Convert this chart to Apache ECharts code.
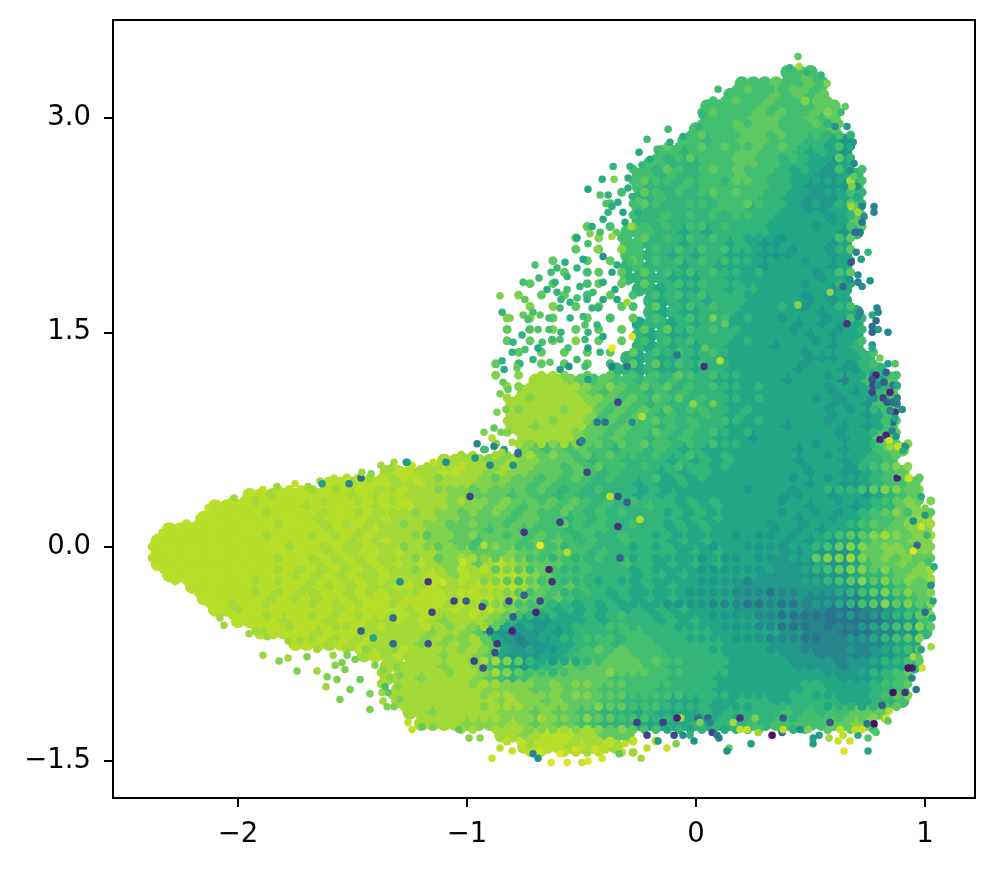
<!DOCTYPE html>
<html>
<head>
<meta charset="utf-8">
<style>
  html, body { margin: 0; padding: 0; background: #fff; }
  #chart { width: 995px; height: 869px; }
</style>
<script src="https://cdn.jsdelivr.net/npm/echarts@6/dist/echarts.min.js"></script>
</head>
<body>
<div id="chart"></div>
<script>
const xTicks = [-2, -1, 0, 1]
const yTicks = [-1.5, 0, 1.5, 3]

// colour level of a bin, as a position on the viridis scale
const levelValues = [0.38, 0.45, 0.53, 0.6, 0.65, 0.7, 0.75, 0.81, 0.86, 0.89]

// binned body of the cloud: first column of each row, then one level digit per column
const binCol0 = -2.4
const binColStep = 0.05
const binRow0 = 3.4
const binRowStep = 0.08

const rowStarts = [
  99, 56, 52, 51, 49, 49, 48, 47, 45, 44, 43, 43, 43, 43, 43, 42,
  42, 42, 42, 42, 43, 44, 44, 43, 43, 43, 42, 41, 34, 33, 32, 32,
  32, 33, 33, 26, 21, 16, 9, 6, 5, 2, 1, 1, 1, 2, 4, 5,
  6, 8, 10, 13, 19, 21, 21, 22, 22, 23, 24, 31, 33
]
const rowCells = [
  '',
  '555',
  '55565565',
  '555565656',
  '555556555566',
  '555566655656',
  '5555666655556',
  '554556665554432',
  '55455556655543432',
  '554445556655443323',
  '55454455565544332234',
  '54445455555544322224',
  '44544445555443322234',
  '54444445554443322336',
  '44544444444433333236',
  '555443434444433333324',
  '55444344434322333323',
  '55443434433322233323',
  '45444344333323333323',
  '44443334433333333233',
  '4434334434433333323',
  '434343444333332323',
  '4343344433333332333',
  '34434344333333232323',
  '43433444433333323233',
  '43434344333323333234',
  '4343343443333333222334',
  '443433434433333323332244',
  '88876 56554 54544 43333 33233 33135 36',
  '88888 76565 54545 44433 33333 33232 346',
  '88888 88765 65454 45443 33333 33322 3255',
  '88888 88756 56545 44543 43333 33323 3235',
  '88788 88665 65545 45443 33332 33332 3235',
  '88888 76565 54545 44333 23333 33323 366',
  '76565 65545 54543 43333 33332 33323 3567',
  '8888778776 6654554444 3434343333 3233323445',
  '8998899887 8776665654 5444343443 3333333233 223456',
  '9989998898 8887776656 5554444343 3433333333 3323322345 56',
  '9989999998 9899888877 6665655454 4444343433 3333333223 323323456',
  '9999999989 9999899988 8777676566 5654544454 4343433333 3323332344 67',
  '9999999999 8999989888 8776666566 5545454444 4434343333 3323323345 5678',
  '9999999999 9999899898 8887766656 6555545554 4444343433 3332323233 3456677',
  '9999999999 9999999898 9888776656 6656565454 4544434343 3333323232 33566677',
  '9999999999 9999989899 8988877766 6766565545 4444443434 3333322322 23667767',
  '9999999999 9999898989 8989877868 9876665544 4544343434 3333222232 23566767',
  '9999999999 9898989889 8889879889 9876555444 4344343333 3322222222 3445677',
  '9999999999 8989898899 8988899998 7656544443 4343333322 2222222223 34566',
  '9999998989 8998999899 9989998876 5654443434 3433333222 2221111122 3456',
  '9989999999 9899999899 8989987654 3434343434 3433332222 2211000112 345',
  '9999899989 9988989878 8876432233 3434444343 4333332221 1100000122 5',
  '9999989998 8888878876 3212232344 4455444444 3333332211 100011224',
  '9998989888 8787878632 1223344545 5544444433 3322211111 11233',
  '8989888788 7632223345 5566555444 4433333222 111112233',
  '8888878875 4323456566 6665544444 3333332222 1222334',
  '8887888876 5456666666 5555544443 3333333333 222345',
  '8888888877 7766766655 5554444433 3333334433 33445',
  '8888888887 8776766655 4444333433 4443344443 33445',
  '8878888877 7676655444 3433334344 4445454556 66',
  '8888777787 6766554443 3333434445 4555556677',
  '887899988666',
  '999989898'
]

// second set of bins, half a cell down and right of the first; '.' is an empty bin
const fineStarts = [
  99, 56, 51, 49, 48, 48, 47, 45, 44, 42, 42, 41, 40, 40, 38, 37,
  36, 35, 34, 33, 32, 31, 31, 31, 31, 31, 30, 30, 31, 31, 31, 31,
  31, 30, 27, 24, 17, 11, 7, 5, 3, 1, 0, 0, 1, 2, 4, 5,
  7, 9, 12, 17, 20, 20, 20, 21, 22, 24, 27, 31, 33
]
const fineCells = [
  '',
  '565',
  '56555665',
  '55655655766',
  '5655565655676',
  '5556566555646',
  '565556656555454',
  '65565655656544353',
  '545655566554543364',
  '554654565655543432545',
  '565545554665443333385',
  '5.65454565655443323354',
  '5.565445545565443232464',
  '..544545454554433332345',
  '6.5.6 54545 54544 43333 23356',
  '6.7.5 .6454 54544 33323 33356',
  '.6.6.7 5.545 45454 43332 33246',
  '6..6.6 .6.54 54545 44333 32333 3',
  '..6.56 .6.6. 54545 44343 33323 56',
  '6.6..5 6.6.6 .4545 44433 33323 343',
  '7.6.6. 5.6.5 .5454 54443 33332 323',
  '..7.7. 6.6.6 5.6.4 54544 33343 23345',
  '7.7.6. .6.5. 6.5.4 54453 43323 33235 4',
  '6.7.7. 6.6.6 .6.64 54544 33332 33323 4',
  '6.6.7. 7.6.6 .5.54 54443 43333 32333 5',
  '.6.6.6 .6.6. 6.545 44543 33333 23333 45',
  '6.6.6. 6.6.5 .6.64 54544 33333 32333 245',
  '7.7.88 7.6.6 .5.54 65454 43333 33323 33245',
  '87888 88767 65656 45454 43433 33323 33346',
  '88788 88776 56565 64544 43433 33232 33245',
  '87888 78865 65656 45544 34333 33323 23456',
  '88887 88756 56565 45445 43433 33323 33356',
  '78888 87665 65565 45454 34333 33332 33456',
  '7.878 78766 56565 54545 44333 33323 33346 67',
  '88.87 78676 56565 54544 54343 33333 33233 3456',
  '88898 87877 66565 65545 44544 34333 33323 33245 677',
  '99898 99878 88767 66565 65454 44534 34333 33332 33233 34567 6',
  '99989 89998 89887 77676 66565 45454 44343 33333 32333 23344 45677 67',
  '99899 99989 98998 98887 87767 66565 65454 54443 43433 33323 33323 34567 67',
  '99999 89999 89989 88878 77676 76565 56545 45444 34343 33333 23323 23456 7576',
  '99999 99989 99898 98887 87766 76656 65565 45445 44343 43333 32332 33345 65677 8',
  '99999 99998 99989 89898 88767 76766 56565 54544 54434 33333 23223 23345 66787 678',
  '99999 99999 99899 89889 88787 67656 76556 54554 44343 43332 33222 23345 67767 7677',
  '99999 99999 98998 98989 88878 67887 67655 45445 44343 33323 22322 23367 78767 6766',
  '99999 99999 89898 98989 88788 79896 76565 44544 43433 33222 22232 23456 77676 678',
  '99999 99898 99899 89898 88998 98776 56554 44343 34333 32222 12222 33456 76767 67',
  '99999 89898 89989 89888 99899 88765 65445 43433 33322 22111 01122 23456 76767',
  '99899 89998 98989 98999 98986 76555 44343 43333 22221 11001 00122 34567 6767',
  '99989 99898 98998 98988 89876 54343 34345 44343 33222 21100 00012 12345 67',
  '99989 99889 89888 98787 86323 23344 45544 44333 32221 10001 01123 45676',
  '99898 98988 88787 78632 12334 45554 55444 33332 22111 00112 23456 7',
  '89888 98888 78763 23223 45656 55544 44333 33222 11112 12345 6',
  '.8.88 88878 87643 23345 66656 55444 43333 32222 12234 456',
  '8.888 87887 87655 45666 76665 55444 43333 33332 22344 56',
  '8.888 88878 87776 76776 66555 54444 33333 33443 33345 56',
  '88888 88878 87777 67766 65555 54444 33333 44333 33456 7',
  '88888 88788 87777 66766 55544 44333 34444 44344 3456',
  '88888 88777 87767 66555 44433 34344 45455 55667 7',
  '88.88 87778 78767 65554 34434 45.54 5.6.6 .5',
  '9.899 98889 .9.9.',
  '99.99 89.98'
]

// single points outside the binned body: x, y, viridis position
const upperDots = [
  [-.856,1.755,.8],[-.812,1.6,.8],[-.847,1.64,.65],[-.755,1.85,.7],[-.747,1.73,.75],[-.703,1.97,.72],
  [-.686,1.88,.68],[-.633,1.92,.68],[-.651,1.8,.62],[-.572,1.99,.62],[-.607,1.95,.68],[-.52,2.16,.6],
  [-.463,2.19,.8],[-.419,2.2,.7],[-.454,2.24,.62],[-.472,2.12,.7],[-.432,2.08,.82],[-.406,2.03,.5],
  [-.493,2.01,.6],[-.52,1.95,.65],[-.563,1.89,.65],[-.616,1.85,.65],[-.607,1.78,.65],[-.563,1.8,.7],
  [-.52,1.74,.7],[-.55,1.71,.65],[-.59,1.73,.65],[-.712,1.64,.7],[-.755,1.62,.75],[-.734,1.59,.7],
  [-.681,1.62,.75],[-.642,1.6,.7],[-.729,1.52,.7],[-.69,1.52,.72],[-.642,1.52,.7],[-.59,1.5,.65],
  [-.55,1.6,.65],[-.594,1.67,.68],[-.493,1.61,.68],[-.485,1.55,.72],[-.432,1.55,.65],[-.472,1.5,.65],
  [-.454,1.67,.65],[-.428,1.67,.65],[-.406,1.73,.6],[-.476,1.73,.65],[-.507,1.82,.65],[-.45,1.78,.68],
  [-.406,1.85,.62],[-.345,1.73,.6],[-.301,1.71,.85],[-.354,1.8,.62],[-.319,1.86,.75],[-.367,1.92,.6],
  [-.288,1.99,.7],[-.345,1.97,.62],[-.799,1.43,.65],[-.76,1.48,.65],[-.803,1.36,.65],[-.747,1.38,.7],
  [-.69,1.39,.6],[-.672,1.43,.7],[-.629,1.45,.68],[-.594,1.45,.7],[-.559,1.39,.7],[-.485,1.45,.68],
  [-.406,1.47,.6],[-.472,1.39,.55],[-.367,1.39,.97],[-.279,1.47,.95],[-.419,1.36,.65],[-.52,1.31,.68],
  [-.638,1.29,.75],[-.769,1.28,.65],[-.847,1.3,.65],[-.838,1.24,.62],[-.712,1.31,.65],[-.555,1.26,.5],
  [-.485,1.26,.7],[-.367,1.26,.45],[-.472,1.17,.55],[-.594,1.24,.55],[-.782,1.25,.75],[-.843,1.15,.75],
  [-.821,1.1,.75],[-.856,1.07,.8],[-.869,.94,.8],[-.83,.96,.8],[-.926,.8,.8],[-.891,.76,.88],
  [-.852,.8,.8],[-.882,.83,.75],[-.956,.72,.45],[-.926,.68,.55],[-.882,.7,.45],[-.838,.68,.55],
  [-.777,.66,.45],[-.803,.73,.85]
]
const topDots = [
  [.445,3.43,.75],[.45,3.36,.85],[.41,3.35,.65],[.096,3.2,.68],[-.122,2.92,.68],[-.214,2.85,.68],
  [-.249,2.76,.6],[-.362,2.66,.65],[-.41,2.57,.62],[-.472,2.5,.6],[-.419,2.46,.72],[-.358,2.57,.8],
  [-.384,2.46,.65],[-.393,2.4,.72],[-.367,2.38,.62],[-.384,2.34,.65],[-.406,2.29,.62],[-.341,2.41,.62],
  [-.319,2.34,.6],[-.31,2.27,.6],[-.349,2.2,.75],[-.284,2.24,.85],[-.367,2.17,.85],[-.297,2.58,.62],
  [-.288,2.66,.65],[-.297,2.51,.62],[-.279,2.45,.65],[-.253,2.42,.72],[-.253,2.34,.62],[.026,3.02,.65],
  [.013,2.94,.65],[-.057,2.87,.62],[-.114,2.83,.62],[-.17,2.78,.68],[-.201,2.71,.62],[-.236,2.67,.65],
  [.651,3.08,.75],[.633,3.04,.68],[.572,3.24,.8],[.546,3.3,.65],[.485,3.32,.65],[.659,2.94,.55],
  [.607,2.94,.5],[.686,2.83,.55],[.69,2.68,.5],[.672,2.63,.5],[.69,2.59,.75],[.703,2.52,.5],
  [.681,2.52,.8],[.707,2.45,.6],[.725,2.38,.45],[.777,2.38,.45],[.777,2.34,.45],[.707,2.34,.85],
  [.734,2.31,.5],[.725,2.27,.4],[.716,2.2,.4],[.694,2.2,.35],[.677,2.38,.85]
]
const rightDots = [
  [.751,2.06,.65],[.721,2.01,.55],[.677,1.99,.25],[.699,2.06,.45],[.76,1.86,.5],[.725,1.82,.5],
  [.707,1.9,.5],[.672,1.87,.5],[.707,1.85,.45],[.642,1.82,.35],[.659,1.56,.15],[.79,1.67,.45],
  [.769,1.62,.62],[.795,1.64,.45],[.786,1.58,.35],[.769,1.54,.4],[.795,1.52,.55],[.838,1.5,.45],
  [.769,1.5,.35],[.707,1.61,.45],[.716,1.64,.45],[.769,1.41,.5],[.803,1.32,.78],[.838,1.28,.55],
  [.869,1.28,.72],[.769,1.39,.62],[.856,1.2,.7],[.83,1.22,.3],[.786,1.2,.1],[.812,1.17,.6],
  [.769,1.17,.25],[.773,1.13,.2],[.795,1.13,.5],[.821,1.15,.3],[.86,1.13,.4],[.878,1.13,.6],
  [.847,1.08,.1],[.817,1.04,.2],[.769,1.08,.2],[.878,1.04,.45],[.86,1.01,.35],[.878,1,.4],
  [.834,1.01,.3],[.9,.96,.5],[.869,.94,.15],[.847,.95,.45],[.86,.87,.35],[.834,.87,.7],
  [.869,.9,.6],[.856,.81,.45],[.83,.78,.1],[.873,.77,.55],[.843,.74,.92],[.803,.75,.1],
  [.882,.7,.92],[.913,.7,.5],[.847,.7,.85],[.799,.7,.7],[.904,.67,.62]
]
const rimDots = [
  [.878,.48,.1],[.891,.52,.75],[.93,.48,.92],[.965,.4,.75],[.983,.35,.62],[1,.27,.8],
  [1,.22,.55],[.948,.18,.5],[.983,.14,.92],[1.009,.08,.68],[.965,.01,.35],[.948,-.03,.95],
  [1,-.08,.75],[1.039,-.14,.62],[1.013,-.11,.7],[1.026,-.22,.85],[1.026,-.27,.5],[1.035,-.38,.6],
  [1,-.46,.35],[1.031,-.5,.62],[1.026,-.7,.85],[.983,-.72,.6],[.948,-.77,.85],[.974,-.78,.75],
  [.987,-.85,.92],[.943,-.85,.1],[.926,-.85,.05],[.943,-.92,.45],[.961,-1,.4],[.913,-1.02,.15],
  [.86,-1.02,.05],[.812,-1.11,.3],[.843,-1.15,.88],[.83,-1.2,.92],[.838,-1.22,.75],[.777,-1.24,.05],
  [.747,-1.24,.4],[.786,-1.3,.72],[.751,-1.34,.72],[.751,-1.43,.6],[.646,-1.43,.95],[.672,-1.36,.92],
  [.62,-1.36,.92],[.581,-1.34,.85],[.511,-1.38,.55],[.511,-1.34,.55],[.24,-1.38,.55],[.144,-1.41,.75],
  [.135,-1.43,.5],[-.009,-1.36,.5],[-.087,-1.38,.8],[-.026,-1.32,.65],[.1,-1.34,.45],[.07,-1.3,.2],
  [.092,-1.32,.4],[.332,-1.32,.05],[.376,-1.3,.35],[.537,-1.32,.55],[.707,-1.32,.6],[.642,-1.32,.9],
  [-.066,-1.2,.85],[.009,-1.2,.35],[.052,-1.2,.3],[.192,-1.2,.15],[.38,-1.2,.3],[.258,-1.2,.8],
  [.017,-1.23,.8],[.061,-1.23,.45],[.162,-1.23,.85],[.223,-1.28,.9],[.192,-1.28,.9],[.38,-1.28,.9],
  [.271,-1.3,.85],[.454,-1.28,.5],[.489,-1.28,.8],[.585,-1.23,.25],[.629,-1.28,.9],[.694,-1.28,.9],
  [.725,-1.28,.92],[-.096,-1.32,.2],[-.057,-1.32,.5]
]
const bottomDots = [
  [-.891,-1.48,.92],[-.803,-1.43,.92],[-.856,-1.41,.9],[-.991,-1.34,.82],[-.943,-1.34,.82],[-1.24,-1.28,.9],
  [-1.197,-1.26,.75],[-1.258,-1.23,.9],[-1.148,-1.26,.8],[-1.035,-1.28,.75],[-.633,-1.51,.95],[-.563,-1.51,.95],
  [-.498,-1.51,.92],[-.472,-1.5,.95],[-.41,-1.48,.92],[-.24,-1.48,.85],[-.336,-1.45,.75],[-.214,-1.41,.9],
  [-.127,-1.41,.92],[-.712,-1.45,.45],[-.69,-1.48,.5],[-.166,-1.36,.55],[-.214,-1.32,.2],[-.127,-1.28,.6],
  [-.275,-1.36,.9],[-.769,-1.36,.9],[-.681,-1.43,.92],[-.594,-1.45,.95],[-.528,-1.42,.92],[-.441,-1.42,.92],
  [-.376,-1.38,.9],[-.725,-1.38,.85],[-.31,-1.38,.9]
]
const leftDots = [
  [-1.891,-.76,.85],[-1.821,-.8,.8],[-1.782,-.78,.85],[-1.742,-.87,.8],[-1.655,-.87,.85],[-1.611,-.91,.8],
  [-1.616,-.98,.85],[-1.568,-.93,.8],[-1.546,-.81,.8],[-1.524,-.76,.8],[-1.585,-.76,.85],[-1.699,-.77,.8],
  [-1.655,-.72,.85],[-1.782,-.66,.85],[-1.729,-.66,.85],[-1.873,-.63,.85],[-1.952,-.61,.85],[-1.926,-.59,.85],
  [-1.891,-.59,.85],[-2.061,-.55,.85],[-2.079,-.5,.85],[-2.131,.27,.9],[-2.17,.2,.9],[-2.332,.1,.9],
  [-2.358,-.14,.9],[-2.017,.34,.85],[-1.891,.4,.9],[-1.83,.42,.85],[-1.751,.44,.9],[-1.694,.42,.85],
  [-1.581,.48,.88],[-1.642,.46,.85],[-1.633,.44,.55],[-1.515,.44,.45],[-1.463,.48,.35],[-1.459,.52,.85],
  [-1.419,.51,.82],[-1.376,.57,.85],[-1.319,.59,.85],[-1.266,.59,.6],[-1.332,.55,.85],[-1.24,.57,.9],
  [-1.092,.59,.5],[-1.148,.59,.9],[-1.262,.59,.55],[-.965,.62,.55],[-1,.62,.85],[-.9,.57,.45],
  [-.799,.57,.5],[-.777,.65,.35],[-.847,.66,.85],[-.921,.68,.7],[-1.349,-1.12,.8],[-1.319,-1.12,.8],
  [-1.367,-1.08,.85],[-1.293,-1.07,.8],[-1.345,-1.02,.75],[-1.371,-1.02,.85],[-1.358,-.98,.7],[-1.301,-.98,.82],
  [-1.293,-.9,.8],[-1.336,-.92,.82],[-1.367,-.86,.82],[-1.306,-.84,.82],[-1.345,-.78,.85],[-1.358,-.73,.85],
  [-1.314,-.72,.82],[-1.555,-1.07,.8],[-1.511,-1,.8],[-1.533,-.86,.8],[-1.467,-.93,.78],[-1.424,-1.03,.8],
  [-1.489,-.79,.8],[-1.576,-.83,.82],[-1.445,-.72,.82],[-1.402,-.83,.8],[-1.424,-1.14,.8]
]
const speckDots = [
  [-1.17,-.245,.15],[-1.153,-.46,.2],[-1.323,-.5,.35],[-1.323,-.68,.35],[-1.17,-.68,.25],[-1.293,-.245,.5],
  [-1.463,-.59,.3],[-1.41,-.64,.6],[-.642,-.16,.1],[-.629,-.245,.15],[-.699,-.46,.1],[-.803,-.59,.1],
  [-.869,-.68,.15],[-.93,-.85,.25],[-.969,-.8,.2],[-.751,-.34,.3],[-.9,-.59,.3],[-.799,-.49,.3],
  [-.878,-.74,.25],[-.751,.1,.15],[-.987,.35,.2],[-.934,-.42,.2],[-1.057,-.38,.2],[-1.004,-.38,.3],
  [-.817,-.38,.2],[-.681,-.38,.2],[-.594,.17,.2],[-.476,.52,.2],[-.341,.35,.25],[-.341,.14,.15],
  [-.301,.31,.3],[-.332,-.08,.3],[-.083,-1.2,.1],[-.144,-1.23,.2],[-.258,-1.23,.2],[-.507,.73,.3],
  [-.681,.01,.97],[-.376,.35,.9],[-.245,.19,.88],[-.926,.01,.88],[-1.017,-.11,.92],[-1.105,-.25,.92],
  [-.563,-.04,.88],[.105,1.3,.88],[.445,1.69,.82],[-.013,1,.82],[.074,1,.78],[.585,1.78,.82],
  [.039,1.39,.75],[.035,1.26,.15],[.127,1.56,.75],[.074,1.6,.8],[-.236,.91,.88],[-.341,1.01,.2],
  [-.432,.87,.4],[-.397,.87,.4],[-.279,.87,.5],[-.498,.74,.45],[-.301,1.26,.4],[-.083,1.34,.4]
]

// turn rows of level digits into points; offset is in cells
const readRows = (starts, rows, offset) => {
  const points = []
  rows.forEach((row, r) => {
    const cells = row.replace(/ /g, '')
    for (let i = 0; i < cells.length; i++) {
      if (cells[i] === '.') continue
      points.push([
        binCol0 + binColStep * (starts[r] + i + offset),
        binRow0 - binRowStep * (r + offset),
        levelValues[+cells[i]]
      ])
    }
  })
  return points
}
const binPoints = readRows(rowStarts, rowCells, 0)
const finePoints = readRows(fineStarts, fineCells, 0.5)
const singleDots = [].concat(upperDots, topDots, rightDots, rimDots, bottomDots, leftDots, speckDots)

const tickFont = { color: '#000', fontSize: 27.5, fontFamily: 'DejaVu Sans' }
const minusLabel = (digits) => (value) => value.toFixed(digits).replace('-', '\u2212')
const dotSeries = (name, data, size) => ({
  name, type: 'scatter', data, symbol: 'circle', symbolSize: size,
  silent: true, large: false, progressive: 0, itemStyle: { opacity: 1 }
})

const chart = echarts.init(document.getElementById('chart'), null, { renderer: 'canvas' })
chart.setOption({
  animation: false,
  grid: {
    left: 113, right: 20, top: 20, bottom: 71,
    show: true, borderColor: '#000', borderWidth: 2, backgroundColor: 'transparent'
  },
  xAxis: {
    type: 'value', min: -2.546, max: 1.218, splitLine: { show: false },
    axisLine: { show: false, onZero: false },
    axisTick: { show: true, customValues: xTicks, length: 9, lineStyle: { color: '#000', width: 2 } },
    axisLabel: Object.assign({ customValues: xTicks, margin: 23, formatter: minusLabel(0) }, tickFont)
  },
  yAxis: {
    type: 'value', min: -1.759, max: 3.685, splitLine: { show: false },
    axisLine: { show: false, onZero: false },
    axisTick: { show: true, customValues: yTicks, length: 9, lineStyle: { color: '#000', width: 2 } },
    axisLabel: Object.assign({ customValues: yTicks, margin: 22, formatter: minusLabel(1) }, tickFont)
  },
  visualMap: {
    show: false, type: 'continuous', min: 0, max: 1, dimension: 2,
    inRange: { color: ['#440154', '#482576', '#414487', '#355f8d', '#2a788e', '#21918c', '#22a884', '#44bf70', '#7ad151', '#bddf26', '#fde725'] }
  },
  series: [
    dotSeries('bins', binPoints, 14.5),
    dotSeries('fine bins', finePoints, 9),
    dotSeries('points', singleDots, 7.5)
  ]
})
</script>
</body>
</html>
